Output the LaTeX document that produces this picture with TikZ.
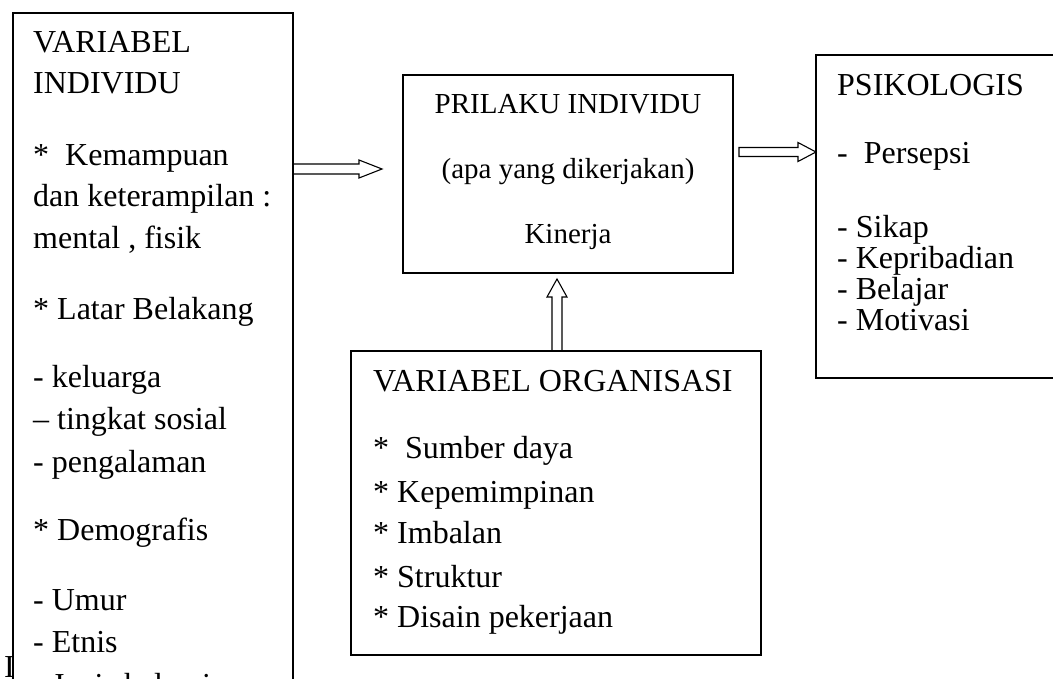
\documentclass[tikz,border=0pt]{standalone}
\usepackage{fontspec}
\setmainfont{Liberation Serif}
\usetikzlibrary{calc}
\begin{document}
\begin{tikzpicture}[x=1pt,y=-1pt,
  box/.style={draw, line width=1.1pt, rectangle, inner sep=0pt, outer sep=0pt, anchor=north west},
  txt/.style={anchor=base west, inner sep=0pt, font=\fontsize{32}{38}\selectfont},
  ctxt/.style={anchor=base, inner sep=0pt, font=\fontsize{29}{35}\selectfont},
  blk/.style={draw, line width=1.1pt, line join=miter}]
\useasboundingbox (0,0) rectangle (1053,678);
\clip (0,0) rectangle (1053,678);

% boxes
\node[box, minimum width=280pt, minimum height=720pt] (vi) at (13,13) {};
\node[box, minimum width=330pt, minimum height=198pt] (pi) at (403,75) {};
\node[box, minimum width=300pt, minimum height=323pt] (ps) at (816,55) {};
\node[box, minimum width=410pt, minimum height=304pt] (vo) at (351,351) {};

% left box text
\node[txt] (l1) at (33,52) {VARIABEL};
\node[txt] (l2) at (33,93) {INDIVIDU};
\node[txt] (l3) at (33,165) {*\ \ Kemampuan};
\node[txt] (l4) at (33,206) {dan keterampilan :};
\node[txt] (l5) at (33,248) {mental , fisik};
\node[txt] (l6) at (33,319) {* Latar Belakang};
\node[txt] (l7) at (33,387) {- keluarga};
\node[txt] (l8) at (33,429) {– tingkat sosial};
\node[txt] (l9) at (33,472) {- pengalaman};
\node[txt] (l10) at (33,540) {* Demografis};
\node[txt] (l11) at (33,610) {- Umur};
\node[txt] (l12) at (33,652) {- Etnis};
\node[txt] (l13) at (33,695) {- Jenis kelamin};
\node[txt] (stray) at (4,677) {I};

% middle box text
\node[ctxt] (m1) at (568,113) {PRILAKU INDIVIDU};
\node[ctxt] (m2) at (568,178) {(apa yang dikerjakan)};
\node[ctxt] (m3) at (568,243) {Kinerja};

% right box text
\node[txt] (r1) at (837,95) {PSIKOLOGIS};
\node[txt] (r2) at (837,163) {-\ \ Persepsi};
\node[txt] (r3) at (837,237) {- Sikap};
\node[txt] (r4) at (837,268) {- Kepribadian};
\node[txt] (r5) at (837,299) {- Belajar};
\node[txt] (r6) at (837,330) {- Motivasi};

% bottom box text
\node[txt] (b1) at (373,391) {VARIABEL ORGANISASI};
\node[txt] (b2) at (373,458) {*\ \ Sumber daya};
\node[txt] (b3) at (373,502) {* Kepemimpinan};
\node[txt] (b4) at (373,543) {* Imbalan};
\node[txt] (b5) at (373,587) {* Struktur};
\node[txt] (b6) at (373,627) {* Disain pekerjaan};

% block arrows
% left -> middle (open at the left box)
\coordinate (a1s) at ($(vi.north east |- 0,169)$);
\coordinate (a1t) at ($(pi.north west |- 0,169) + (-21,0)$);
\draw[blk] ($(a1s)+(0,-5)$) -- ($(a1t)+(-23,-5)$) -- ($(a1t)+(-23,-9)$) -- (a1t)
  -- ($(a1t)+(-23,9)$) -- ($(a1t)+(-23,5)$) -- ($(a1s)+(0,5)$);
% middle -> right (closed tail, tip touches the right box)
\coordinate (a2s) at ($(pi.north east |- 0,152) + (6,0)$);
\coordinate (a2t) at ($(ps.north west |- 0,152)$);
\draw[blk] ($(a2s)+(0,-4.5)$) -- ($(a2t)+(-18,-4.5)$) -- ($(a2t)+(-18,-9.5)$) -- (a2t)
  -- ($(a2t)+(-18,9.5)$) -- ($(a2t)+(-18,4.5)$) -- ($(a2s)+(0,4.5)$) -- cycle;
% bottom -> middle (open at the bottom box)
\coordinate (a3s) at ($(vo.north west -| 557,0)$);
\coordinate (a3t) at ($(pi.south west -| 557,0) + (0,6)$);
\draw[blk] ($(a3s)+(-5,0)$) -- ($(a3t)+(-5,18)$) -- ($(a3t)+(-10,18)$) -- (a3t)
  -- ($(a3t)+(10,18)$) -- ($(a3t)+(5,18)$) -- ($(a3s)+(5,0)$);
\end{tikzpicture}
\end{document}
